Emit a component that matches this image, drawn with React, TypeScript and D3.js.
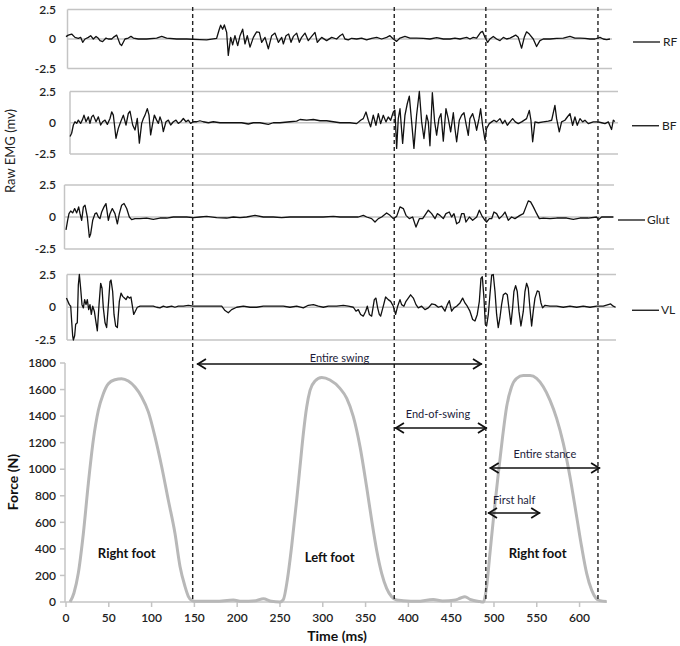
import React from "react";
import * as d3 from "d3";

// ---------- DATA ----------
const timeTicks = [0, 50, 100, 150, 200, 250, 300, 350, 400, 450, 500, 550, 600];
const forceTicks = [0, 200, 400, 600, 800, 1000, 1200, 1400, 1600, 1800];
const emgTicks = [2.5, 0, -2.5];
const emgTickLabels = ["2.5", "0", "-2.5"];
const muscleNames = ["RF", "BF", "Glut", "VL"];
const eventTimes = [148, 383.5, 490.5, 621.5];

// [time ms, mV]
const rfData: [number, number][] = [
  [0, 0.2], [2.7, 0.33], [6.6, 0.42], [10.5, 0.14], [14.4, 0.06], [17.1, 0.14], [19.5, -0.28], [22.2, 0],
  [26.1, 0.14], [28.8, 0.28], [31.9, 0], [35.1, 0.22], [37.8, 0.06], [39.7, -0.14], [42.8, -0.22], [46.7, 0.08],
  [49.5, 0], [53.4, 0], [55.3, 0.14], [59.2, 0.33], [63.1, -0.42], [65, -0.55], [68.9, 0], [72.8, 0.08],
  [75.9, 0.22], [78.7, 0.08], [84.5, 0], [94.2, 0], [105.9, 0.08], [111.8, 0.22], [117.6, 0.08], [129.3, 0],
  [141, 0], [156.5, -0.06], [164.3, -0.08], [176, 0.06], [179.1, 0.83], [180.7, 1.17], [183, 0.83], [185, 1.19],
  [187.7, 0.56], [189.6, -1.39], [192.4, 0.14], [194.7, -0.5], [197.4, 0.28], [200.6, -0.56], [203.3, 0.28],
  [206.4, 0.83], [209.1, -0.42], [211.8, 0.28], [215, -0.69], [218.9, 0.14], [222.7, 0.61], [225.9, 0.56],
  [228.6, -0.28], [232.5, 0.14], [236.4, -0.83], [240.3, 0.28], [244.2, 0.5], [248.1, -0.28], [252, 0.14],
  [253.9, -0.42], [257, 0.28], [260.1, 0.42], [262.9, -0.28], [265.6, 0.22], [269.5, 0.5], [272.6, -0.28],
  [275.3, 0.14], [279.2, 0.5], [283.1, -0.14], [287, 0.22], [290.9, 0.56], [293.6, -0.28], [298.7, 0.14],
  [304.5, -0.14], [310.4, 0.14], [316.2, 0], [320.1, 0.28], [323.2, 0.42], [325.9, 0], [329.8, -0.08],
  [333.7, 0.06], [339.6, 0], [345.4, 0.08], [351.2, -0.08], [357.1, 0.06], [362.9, 0.14], [368.8, 0],
  [374.6, 0.14], [378.5, 0.28], [382.4, 0], [386.3, -0.2], [390.2, 0.08], [396, 0.22], [401.9, 0.08],
  [409.6, 0.08], [417.4, 0.06], [425.2, 0], [433, 0.11], [440.8, 0], [448.6, 0], [454.4, 0.08], [460.3, 0],
  [464.2, 0.08], [468.1, 0.14], [472, 0], [475.8, 0.14], [479.7, 0.08], [484.4, 0.56], [486.7, 0.64],
  [489.5, 0.14], [492.6, -0.28], [495.3, 0], [499.2, 0.22], [503.1, 0], [507, -0.14], [510.9, 0.14],
  [514.8, 0], [518.7, 0.08], [522.6, 0.22], [525.3, 0.33], [528.4, 0.14], [532.3, -0.78], [535.4, 0.14],
  [538.1, 0.61], [541.3, 0.42], [545.9, 0], [549.8, -0.64], [553.7, -0.14], [557.6, 0], [565.4, 0],
  [573.2, 0.06], [581, 0.08], [588.8, 0.22], [594.6, 0.08], [600.5, 0.08], [606.3, 0.06], [612.1, 0],
  [618, 0], [623.8, 0.14], [627.7, 0], [631.6, -0.06], [635.5, 0],
];

const bfData: [number, number][] = [
  [4.7, -1.1], [6.6, -0.84], [8.6, -0.18], [10.5, 0.08], [12.5, -0.05], [14.4, 0.21], [17.1, -0.05],
  [19.5, 0.29], [21, 0.61], [23.4, 0.08], [26.1, 0.47], [28, -0.05], [30, 0.47], [31.9, 0.61], [35.1, 0.08],
  [37.8, 0.47], [40.5, -0.18], [42.8, 0.08], [45.6, 0.21], [48.3, -0.13], [51.4, 0.34], [53.4, 0.87],
  [55.3, 0.61], [58.4, -1.24], [61.1, -0.45], [63.9, 0.08], [67, 0.61], [70.1, -0.18], [72.8, 0.74],
  [74.8, 0.92], [77.9, -0.18], [80.6, -0.58], [83.3, 0.34], [85.7, -1.63], [88.4, -0.05], [90.4, 0.34],
  [92.3, 0.61], [95, 1.13], [97, 0.61], [98.9, -0.97], [101.3, -0.05], [103.2, 0.61], [105.9, 0.21],
  [107.9, -0.05], [109.8, 0.47], [111.8, 0.08], [113.7, -0.71], [116.8, 0.08], [119.6, 0.21], [122.3, -0.18],
  [125.4, 0.08], [128.5, 0.21], [131.2, -0.05], [134, 0.08], [137.1, 0.34], [140.2, 0.08], [142.9, 0.21],
  [145.6, -0.05], [148.8, 0.08], [152.7, 0.08], [156.5, 0.16], [160.4, 0.08], [166.3, 0], [172.1, 0.08],
  [179.9, 0], [187.7, 0], [195.5, 0], [205.2, 0], [213, -0.1], [218.9, 0], [226.6, 0], [236.4, -0.13],
  [242.2, 0], [250, 0], [261.7, 0.08], [269.5, 0.13], [273.4, 0.26], [281.2, 0.21], [289, 0.26],
  [296.7, 0.16], [304.5, 0.16], [312.3, 0.08], [320.1, 0], [324, 0], [331.8, 0], [339.6, -0.07],
  [344.2, 0.2], [347.3, 0.33], [350.5, 0.86], [353.2, 0.2], [355.9, -0.33], [359, 0.6], [362.1, -0.2],
  [364.9, 0.73], [367.6, -0.07], [370.7, 0.6], [373.8, 0.07], [376.5, 0.46], [379.3, 0.2], [382.4, 0.86],
  [384.3, 1.0], [386.3, -2.05], [388.2, 0.33], [390.2, 1.12], [393.3, -1.65], [396, 0.6], [398.7, 1.52],
  [401.1, 2.13], [403.8, 0.07], [406.5, -2.05], [409.6, 0.6], [412.8, 2.5], [415.5, 0.07], [418.2, -1.26],
  [421.3, 0.6], [423.3, 0.07], [425.2, -1.84], [428, 2.4], [430.7, 0.07], [433, -0.99], [435.7, 0.33],
  [438.1, 0.73], [440.8, -1.47], [443.9, 1.12], [446.6, 0.33], [449.4, -0.73], [452.5, 0.8], [454.4, -0.46],
  [456.4, -1.52], [459.5, 0.2], [462.2, 0.6], [465, 0.8], [467.3, -0.07], [470, -1.0], [471.9, 0.33],
  [475.1, 0.73], [477.8, 0.07], [479.7, -0.6], [482.5, 0.33], [484.4, 1.12], [486.7, -0.2], [489.5, -1.39],
  [491.4, -0.46], [494.5, -0.07], [497.3, 0.07], [500, 0.2], [503.1, 0.07], [507, 0.33], [510.1, -0.07],
  [512.8, 0.2], [515.6, -0.2], [518.7, 0.07], [521.8, 0.33], [524.9, 0.07], [528.4, -0.07], [532.3, 0.07],
  [538.1, 0.33], [541.3, 0.99], [543.2, 0.2], [545.2, -1.52], [547.9, 0.07], [551.8, 0], [557.6, 0.07],
  [563.5, 0.13], [567.4, 0.2], [571.2, 1.39], [573.2, 0.33], [576.3, -0.73], [579, 0.07], [582.9, 0.2],
  [585.7, 0.46], [588.8, 0.73], [591.9, -0.2], [594.6, 0.46], [597.3, -0.2], [600.5, 0.33], [603.6, 0.07],
  [606.3, 0.2], [610.2, -0.07], [616, 0.07], [621.9, 0.07], [625.8, 0], [629.7, -0.07], [633.6, 0.07],
  [637.4, -0.54], [639.4, 0.2], [641.3, 0.1],
];

const glutData: [number, number][] = [
  [0, -1.0], [1.9, -0.26], [3.5, 0.26], [5.5, 0.47], [7.8, 0.32], [10.1, 0.66], [12.5, 0.32], [14.8, 0.79],
  [16.4, 0.26], [18.3, -0.26], [20.3, 0.79], [22.2, 0.92], [24.9, 0], [27.3, -1.58], [28.8, -1.32],
  [31.2, -0.26], [33.9, 0.26], [35.8, 0.32], [37.8, 0], [39.7, -0.13], [41.7, 0.39], [44.4, 0.79],
  [46.7, 1.05], [49.5, -0.26], [51.4, 0.26], [54.1, 0.66], [57.2, 0.26], [60, -0.53], [62.3, 0.26],
  [65, 0.92], [67.8, 1.05], [70.9, 0.66], [74, 0], [76.7, -0.21], [80.6, -0.13], [86.4, -0.13],
  [94.2, -0.08], [102, -0.18], [109.8, -0.08], [117.6, -0.08], [125.4, 0], [133.2, 0], [141, 0],
  [148.8, -0.05], [156.5, 0], [164.3, 0.05], [176, -0.05], [187.7, -0.08], [195.5, 0], [203.3, -0.05],
  [211.1, 0], [220.8, 0.13], [230.5, 0], [242.2, 0], [251.9, -0.05], [261.7, 0], [273.4, 0], [289, 0],
  [300.6, 0], [312.3, 0.05], [320.1, 0], [331.8, 0], [341.5, 0], [347.4, 0.13], [351.3, 0], [357.1, -0.13],
  [361, -0.39], [364.9, -0.13], [368.8, 0], [374.6, 0.32], [378.5, 0.13], [382.4, -0.13], [386.3, 0.05],
  [390.2, 0.79], [394.1, 0.66], [397.2, 0.13], [401.1, -0.13], [405, 0], [408.9, -0.79], [412.8, -0.13],
  [416.7, -0.13], [420.6, 0.26], [423.3, 0.53], [427.2, 0.26], [431.1, -0.13], [433.8, 0.26], [436.9, 0.13],
  [440.8, -0.13], [443.9, 0.26], [447.8, 0.39], [450.5, 0], [453.3, 0.26], [456.4, -0.53], [459.5, -0.39],
  [462.2, 0.26], [465, 0.26], [467.3, -0.39], [471.2, 0], [475.1, -0.26], [479.8, 0], [482.9, 0.53],
  [485.6, 0.13], [489.5, -0.26], [491.4, -0.39], [494.6, -0.13], [497.3, -0.13], [500, 0.39], [503.1, 0.26],
  [506.2, -0.13], [510.1, 0.13], [512.9, 0.39], [516.7, -0.26], [520.6, 0], [524.5, -0.13], [530.4, 0.13],
  [534.3, 0.26], [537.4, 0.79], [540.1, 1.26], [542.8, 1.18], [546, 0.79], [549.9, 0.26], [553, -0.13],
  [557.6, -0.08], [565.4, -0.13], [573.2, -0.08], [584.9, -0.08], [592.7, -0.18], [600.5, -0.08],
  [610.2, -0.08], [619.9, 0], [621.9, -0.21], [625.8, 0], [635.5, 0], [639.4, 0],
];

const vlData: [number, number][] = [
  [0.5, 0.7], [3.9, 0.2], [5.5, 0.08], [6.6, -1.05], [7.8, -2.18], [8.6, -2.5], [10.1, -2.18], [11.3, -1.3],
  [13.2, -1.18], [14.4, 1.7], [15.6, 2.5], [17.1, 1.45], [18.7, 0.2], [20.3, -0.05], [21.8, 0.58],
  [23.4, 0.2], [24.9, 0.58], [26.5, -0.18], [28, 0.2], [29.6, -0.55], [31.2, 0.08], [33.1, -0.3],
  [35.1, -1.18], [36.6, -1.8], [38.6, 0.2], [40.5, 1.83], [42.1, 1.45], [43.6, -0.05], [45.6, -1.18],
  [47.5, -1.55], [49.5, 0.2], [51.4, 1.95], [52.6, 2.08], [54.5, 1.2], [56.1, -0.55], [58, -1.43],
  [60, -1.55], [62.3, 0.45], [64.3, 1.08], [66.2, 0.83], [68.2, 0.7], [70.1, 0.58], [72, 0.83], [74, 0.7],
  [75.9, 0.78], [77.9, -0.05], [79.1, -0.55], [81, -0.3], [83.3, 0], [86.5, 0.08], [94.2, 0.08],
  [102, 0.08], [105.9, 0], [109.8, -0.05], [113.7, 0.08], [117.6, 0], [123.4, 0.08], [127.3, 0],
  [131.2, 0.08], [137.1, 0.08], [142.9, 0.15], [148.8, 0.08], [156.5, 0.08], [168.2, 0.08], [176, 0.08],
  [181.9, 0.08], [185.8, -0.25], [189.6, -0.42], [193.5, -0.18], [199.4, 0], [207.2, 0.08], [215, 0],
  [222.7, 0], [230.5, 0.08], [238.3, 0.08], [246.1, 0.08], [253.9, 0.08], [261.7, 0], [269.5, 0.08],
  [277.3, -0.05], [283.1, 0.15], [289, 0.2], [294.8, 0.08], [300.6, 0], [306.5, 0.08], [312.3, 0.08],
  [316.2, 0.08], [324, 0.15], [329.8, 0.08], [335.7, 0], [338.8, -0.3], [341.5, -0.18], [344.2, -0.55],
  [347.3, -0.68], [350.1, -0.3], [352, 0.08], [354.4, -0.55], [357.1, -0.68], [360.2, 0.58], [362.1, 0.7],
  [364.1, -0.05], [366, -0.55], [367.6, -0.68], [370.7, 0.08], [373.4, 0.78], [376.5, 0.58], [379.3, 0.45],
  [382.4, 0.08], [385.1, -0.55], [387.5, 0.08], [390.2, 0.58], [392.1, 0.2], [394.8, 0.08], [397.2, 0.45],
  [399.9, 0.7], [402.6, 0.95], [405.8, 0.7], [408.9, 0.2], [411.6, -0.05], [415.5, 0.08], [419.4, -0.18],
  [423.3, -0.05], [427.2, 0.25], [431.1, 0.2], [435, 0], [438.9, 0.08], [442.7, -0.3], [445.5, 0.2],
  [447.8, 0.5], [450.5, -0.3], [453.3, -0.05], [456.4, 0.08], [460.3, 0.33], [463.4, 0.7], [466.1, 0.33],
  [468.8, 0.08], [471.9, -0.3], [475.1, -0.93], [477.8, -1.05], [480.5, -0.55], [482.9, 0.45], [484.8, 2.2],
  [486.4, 2.33], [488.3, 0.7], [489.9, -1.3], [491.4, -1.43], [493.4, -0.55], [495.3, 0.95], [497.3, 2.45],
  [499.2, 2.5], [501.2, 1.2], [503.1, -0.55], [505, -1.55], [507, -0.8], [508.9, 0.2], [510.9, 0.95],
  [513.6, 1.08], [515.6, 0.95], [517.9, -0.3], [519.8, -1.3], [521.8, -0.05], [523.3, 1.2], [525.3, 1.65],
  [527.2, 1.2], [529.2, -0.3], [531.5, -1.43], [534.3, -0.3], [536.2, 1.2], [538.1, 1.83], [540.1, 1.45],
  [542, -0.05], [544, -1.43], [545.9, -0.3], [547.9, 0.7], [550.6, 1.25], [552.6, 1.2], [554.9, 0.33],
  [556.8, -0.05], [559.6, 0.15], [565.4, 0.08], [573.2, 0.08], [581, 0], [588.8, 0.08], [596.6, 0],
  [604.3, 0.08], [612.1, 0], [619.9, 0.08], [627.7, 0.08], [633.5, 0.2], [636.3, 0.25], [639.4, 0.08],
  [642, 0],
];

// [time ms, Newtons]
const forceData: [number, number][] = [
  [4.7, 0], [9.3, 68], [14.4, 218], [20.3, 518], [26.1, 894], [31.9, 1219], [37.8, 1444], [43.6, 1569],
  [49.5, 1644], [57.2, 1674], [65, 1682], [72.8, 1664], [80.6, 1619], [88.4, 1544], [96.2, 1432],
  [104, 1244], [111.8, 1019], [119.5, 768], [127.3, 518], [133.2, 268], [139, 118], [142.9, 43],
  [146.8, 13], [152.6, 5], [175, 5], [195.5, 15], [205, 5], [222, 10], [230.5, 25], [240, 5], [250, 0],
  [253.9, 18], [258.6, 168], [263.6, 418], [269.5, 768], [273.4, 1019], [277.3, 1269], [281.2, 1469],
  [285.1, 1594], [290.9, 1664], [298.7, 1690], [308.4, 1672], [320.1, 1609], [328, 1534], [335.7, 1396],
  [343.5, 1170], [351.2, 868], [357.1, 617], [362.9, 392], [368.8, 216], [374.6, 103], [380.5, 40],
  [386.3, 15], [394.1, 10], [410, 5], [429, 18], [440, 8], [455, 15], [460.3, 28], [466.1, 40], [472, 20],
  [483.6, 3], [487.5, 0], [491.4, 115], [495.3, 366], [500, 668], [505.1, 969], [510.1, 1245],
  [514.8, 1471], [520.6, 1621], [526.5, 1684], [534.3, 1705], [542.1, 1705], [549.8, 1684], [557.6, 1621],
  [565.4, 1521], [573.2, 1383], [581, 1195], [588.8, 944], [596.6, 643], [602.4, 417], [608.3, 216],
  [614.1, 90], [619.2, 28], [623.8, 10], [631.6, 3],
];

// annotation arrows: [label, start ms, end ms]
const arrowLabels = ["Entire swing", "End-of-swing", "Entire stance", "First half"];
const arrowStarts = [153, 384.3, 495, 493];
const arrowEnds = [486, 491.8, 624, 554];
const footLabels = ["Right foot", "Left foot", "Right foot"];
const footLabelTimes = [71, 308, 551];

// ---------- LAYOUT ----------
const W = 680;
const H = 646;
const FONT = "Lato, 'Open Sans', 'Liberation Sans', sans-serif";
const emgSeries = [rfData, bfData, glutData, vlData];
const panelLayout = [
  { top: 9.5, bottom: 68.5, left: 67.5, right: 612 },
  { top: 91.5, bottom: 154, left: 70, right: 618 },
  { top: 185, bottom: 249, left: 64.5, right: 614 },
  { top: 274.5, bottom: 340, left: 67, right: 616 },
];
const legendLayout = [
  { x: 633, text: 663 },
  { x: 632, text: 662 },
  { x: 618, text: 647 },
  { x: 632, text: 661 },
];
const arrowY = [364, 428, 468, 513];
const arrowTextY = [362, 418, 458, 504];

export default function App() {
  const x = d3.scaleLinear().domain([0, 640]).range([66, 613.8]);
  const fy = d3.scaleLinear().domain([0, 1800]).range([602, 363]);
  const forceLine = d3
    .line<[number, number]>()
    .x((d) => x(d[0]))
    .y((d) => fy(d[1]))
    .curve(d3.curveMonotoneX);

  const grid = "#c4c4c4";

  return (
    <svg
      width={W}
      height={H}
      style={{ position: "absolute", left: 0, top: 0, background: "#fff", display: "block" }}
      fontFamily={FONT}
    >
      <rect x={0} y={0} width={W} height={H} fill="#fff" />

      {/* EMG panels */}
      {emgSeries.map((data, i) => {
        const p = panelLayout[i];
        const y = d3.scaleLinear().domain([-2.5, 2.5]).range([p.bottom, p.top]);
        const line = d3
          .line<[number, number]>()
          .x((d) => x(d[0]))
          .y((d) => y(d[1]))
          .curve(d3.curveLinear);
        const lg = legendLayout[i];
        return (
          <g key={muscleNames[i]}>
            {emgTicks.map((t, k) => (
              <g key={k}>
                <line x1={p.left} x2={p.right} y1={y(t)} y2={y(t)} stroke={grid} strokeWidth={1.5} />
                <text
                  x={56}
                  y={y(t)}
                  dy="0.35em"
                  textAnchor="end"
                  fontSize={12}
                  fontWeight={600}
                  fill="#222"
                >
                  {emgTickLabels[k]}
                </text>
              </g>
            ))}
            <line x1={p.left} x2={p.left} y1={p.top} y2={p.bottom} stroke={grid} strokeWidth={1.5} />
            <path d={line(data) || ""} fill="none" stroke="#111" strokeWidth={1.3} strokeLinejoin="round" />
            <line x1={lg.x} x2={lg.x + 27} y1={y(0) + 3} y2={y(0) + 3} stroke="#111" strokeWidth={1.3} />
            <text x={lg.text} y={y(0) + 3} dy="0.35em" fontSize={12} fill="#222">
              {muscleNames[i]}
            </text>
          </g>
        );
      })}

      <text
        transform={`translate(15,151) rotate(-90)`}
        textAnchor="middle"
        fontSize={13}
        fill="#222"
      >
        Raw EMG (mv)
      </text>

      {/* Force panel axes */}
      <line x1={65} x2={65} y1={363} y2={602} stroke={grid} strokeWidth={1.5} />
      <line x1={65} x2={x(632)} y1={602} y2={602} stroke={grid} strokeWidth={1.5} />
      {forceTicks.map((t) => (
        <g key={t}>
          <line x1={60} x2={65} y1={fy(t)} y2={fy(t)} stroke={grid} strokeWidth={1.5} />
          <text x={56} y={fy(t)} dy="0.35em" textAnchor="end" fontSize={12} fontWeight={600} fill="#222">
            {t}
          </text>
        </g>
      ))}
      {timeTicks.map((t) => (
        <g key={t}>
          <line x1={x(t)} x2={x(t)} y1={602} y2={607} stroke={grid} strokeWidth={1.5} />
          <text x={x(t)} y={618} dy="0.35em" textAnchor="middle" fontSize={12} fontWeight={600} fill="#222">
            {t}
          </text>
        </g>
      ))}

      <path d={forceLine(forceData) || ""} fill="none" stroke="#b8b8b8" strokeWidth={3} strokeLinejoin="round" />

      {/* event dashed lines */}
      {eventTimes.map((t, i) => (
        <line
          key={i}
          x1={x(t)}
          x2={x(t)}
          y1={7}
          y2={602}
          stroke="#222"
          strokeWidth={1.4}
          strokeDasharray="4 3"
        />
      ))}

      {/* arrows */}
      {arrowLabels.map((lab, i) => {
        const x1 = x(arrowStarts[i]);
        const x2 = x(arrowEnds[i]);
        const yy = arrowY[i];
        return (
          <g key={lab}>
            <line x1={x1} x2={x2} y1={yy} y2={yy} stroke="#111" strokeWidth={1.6} />
            <path
              d={`M${x1 + 9},${yy - 5} L${x1 + 1},${yy} L${x1 + 9},${yy + 5}`}
              fill="none"
              stroke="#111"
              strokeWidth={1.8}
            />
            <path
              d={`M${x2 - 9},${yy - 5} L${x2 - 1},${yy} L${x2 - 9},${yy + 5}`}
              fill="none"
              stroke="#111"
              strokeWidth={1.8}
            />
            <text
              x={(x1 + x2) / 2 + (i === 1 ? -3 : 0)}
              y={arrowTextY[i]}
              textAnchor="middle"
              fontSize={11}
              fill="#1c1c3a"
            >
              {lab}
            </text>
          </g>
        );
      })}

      {footLabels.map((lab, i) => (
        <text
          key={i}
          x={x(footLabelTimes[i])}
          y={i === 1 ? 562 : 558}
          textAnchor="middle"
          fontSize={13}
          fontWeight={700}
          fill="#111"
        >
          {lab}
        </text>
      ))}

      <text
        transform={`translate(18,482) rotate(-90)`}
        textAnchor="middle"
        fontSize={14}
        fontWeight={700}
        fill="#111"
      >
        Force (N)
      </text>
      <text x={337} y={641} textAnchor="middle" fontSize={14} fontWeight={700} fill="#111">
        Time (ms)
      </text>
    </svg>
  );
}
